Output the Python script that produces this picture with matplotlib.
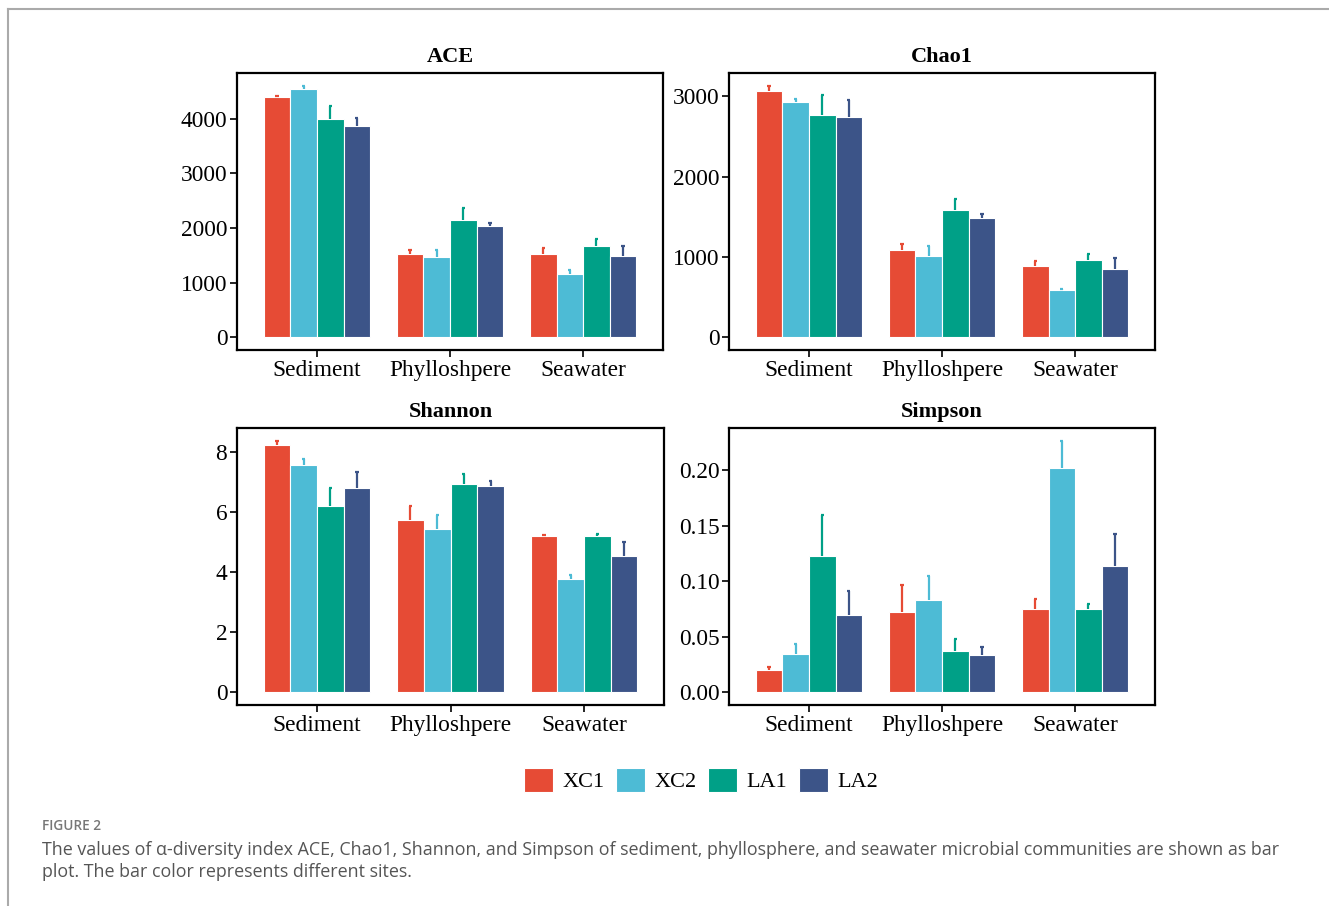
import numpy as np
import matplotlib
matplotlib.use("Agg")
import matplotlib.pyplot as plt
from matplotlib.patches import Patch
from matplotlib.lines import Line2D

plt.rcParams['font.family'] = ['Liberation Serif', 'DejaVu Serif']

habitats = ["Sediment", "Phylloshpere", "Seawater"]
sites = ["XC1", "XC2", "LA1", "LA2"]
colors = ["#E64B35", "#4DBBD5", "#00A087", "#3C5488"]

# mean values, rows = habitat, cols = site
ace_mean = [[4394, 4545, 3988, 3867],
            [1533, 1467, 2139, 2030],
            [1533, 1164, 1679, 1485]]
ace_sd = [[30, 61, 248, 145],
          [73, 127, 219, 61],
          [103, 78, 121, 182]]

chao1_mean = [[3061, 2930, 2765, 2740],
              [1084, 1018, 1586, 1483],
              [894, 593, 968, 845]]
chao1_sd = [[70, 33, 243, 206],
            [78, 119, 140, 46],
            [50, 13, 70, 148]]

shannon_mean = [[8.23, 7.59, 6.21, 6.82],
                [5.74, 5.43, 6.93, 6.89],
                [5.20, 3.77, 5.21, 4.55]]
shannon_sd = [[0.16, 0.20, 0.59, 0.53],
              [0.46, 0.47, 0.35, 0.15],
              [0.04, 0.15, 0.07, 0.46]]

simpson_mean = [[0.0203, 0.0343, 0.1233, 0.0701],
                [0.0725, 0.0830, 0.0373, 0.0334],
                [0.0749, 0.2018, 0.0755, 0.1143]]
simpson_sd = [[0.0027, 0.0090, 0.0364, 0.0209],
              [0.0239, 0.0221, 0.0108, 0.0078],
              [0.0096, 0.0251, 0.0039, 0.0281]]

W, H = 1329, 906
fig = plt.figure(figsize=(W / 100, H / 100), dpi=100)


def px_axes(x0, y0, x1, y1):
    return fig.add_axes([x0 / W, 1 - y1 / H, (x1 - x0) / W, (y1 - y0) / H])


def panel(ax, title, mean, sd, yticks, fmt):
    mean = np.array(mean)
    sd = np.array(sd)
    x = np.arange(1, len(habitats) + 1)
    bw = 0.2
    for j in range(len(sites)):
        xs = x - 0.3 + j * bw
        ax.bar(xs, mean[:, j], width=bw, color=colors[j], edgecolor="white",
               linewidth=0.8, zorder=2)
        ax.vlines(xs, mean[:, j], mean[:, j] + sd[:, j], color=colors[j],
                  linewidth=1.6, zorder=3)
        ax.hlines(mean[:, j] + sd[:, j], xs - 0.012, xs + 0.012,
                  color=colors[j], linewidth=1.6, zorder=3)
    top = (mean + sd).max()
    ax.set_ylim(-0.05 * top, 1.05 * top)
    ax.set_xlim(0.4, 3.6)
    ax.set_xticks(x)
    ax.set_xticklabels(habitats)
    ax.set_yticks(yticks)
    ax.set_yticklabels([fmt.format(v) for v in yticks])
    ax.tick_params(labelsize=16.8, length=5, width=1.2, color="black",
                   labelcolor="black", pad=2)
    for s in ax.spines.values():
        s.set_linewidth(1.6)
        s.set_color("black")
    ax.set_title(title, fontsize=16, fontweight="bold", pad=8)


ax1 = px_axes(237, 73, 663, 350)
panel(ax1, "ACE", ace_mean, ace_sd, [0, 1000, 2000, 3000, 4000], "{:.0f}")
ax2 = px_axes(729, 73, 1155, 350)
panel(ax2, "Chao1", chao1_mean, chao1_sd, [0, 1000, 2000, 3000], "{:.0f}")
ax3 = px_axes(237, 428, 664, 705)
panel(ax3, "Shannon", shannon_mean, shannon_sd, [0, 2, 4, 6, 8], "{:.0f}")
ax4 = px_axes(729, 428, 1155, 705)
panel(ax4, "Simpson", simpson_mean, simpson_sd,
      [0, 0.05, 0.10, 0.15, 0.20], "{:.2f}")

handles = [Patch(facecolor=c, edgecolor="white", linewidth=0.8) for c in colors]
fig.legend(handles, sites, loc="center", bbox_to_anchor=(701 / W, 1 - 780 / H),
           ncol=4, frameon=False, fontsize=16, handlelength=1.3,
           handleheight=1.3, handletextpad=0.45, columnspacing=0.5)

# page frame lines
fig.add_artist(Line2D([7.5 / W, 1], [1 - 9 / H, 1 - 9 / H], color="#aaaaaa",
                      linewidth=1.5))
fig.add_artist(Line2D([7.5 / W, 7.5 / W], [0, 1 - 9 / H], color="#aaaaaa",
                      linewidth=1.5))

fig.text(42 / W, 1 - 826 / H, "FIGURE 2", fontsize=9.8, color="#777777",
         family="Open Sans", fontweight="semibold", va="center")
fig.text(42 / W, 1 - 850 / H,
         "The values of \u03b1-diversity index ACE, Chao1, Shannon, and Simpson of "
         "sediment, phyllosphere, and seawater microbial communities are shown as bar",
         fontsize=12.9, color="#555555", family=["Open Sans", "DejaVu Sans"],
         va="center")
fig.text(42 / W, 1 - 872 / H, "plot. The bar color represents different sites.",
         fontsize=12.9, color="#555555", family="Open Sans", va="center")

fig.savefig("out.png", dpi=100)
